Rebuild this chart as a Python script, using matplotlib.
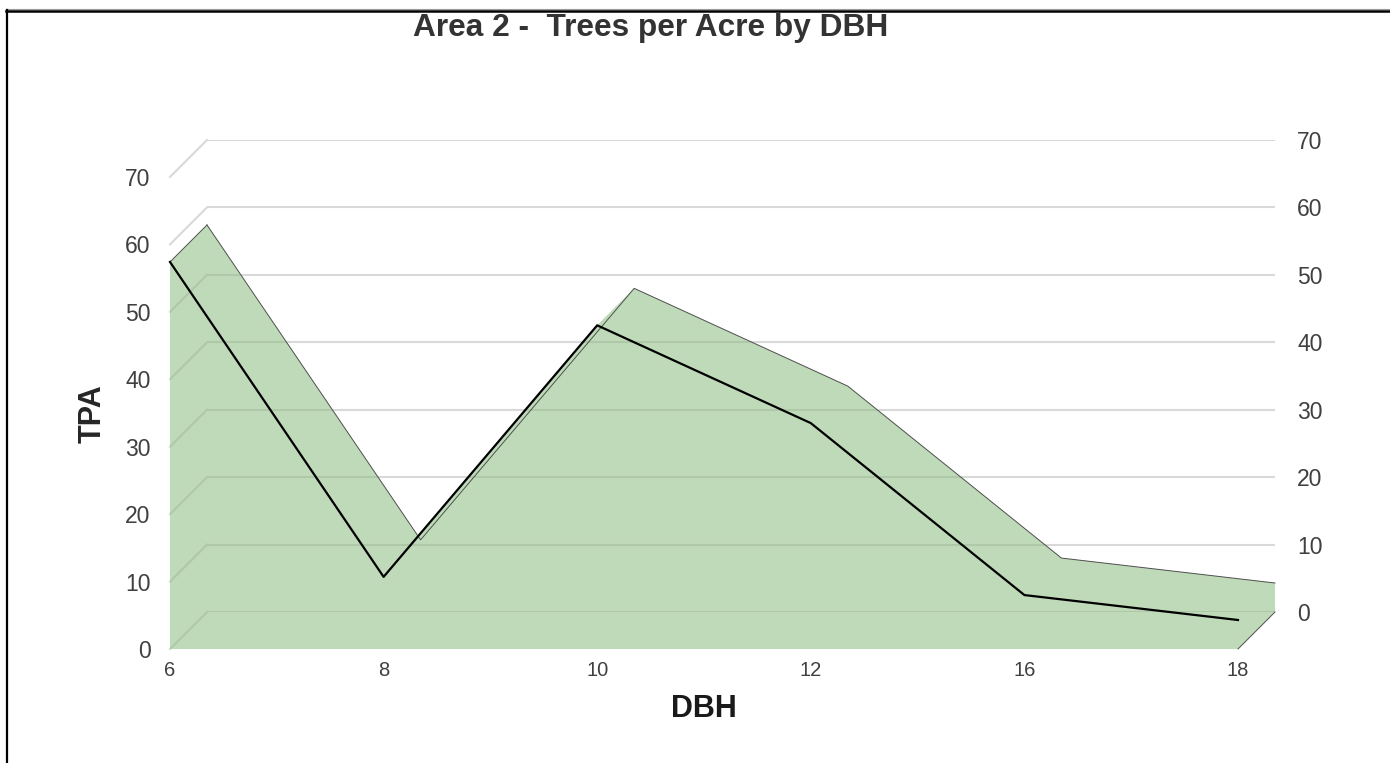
import numpy as np
import matplotlib.pyplot as plt
from matplotlib.path import Path
from matplotlib.patches import PathPatch
from matplotlib.lines import Line2D
from matplotlib.transforms import IdentityTransform

plt.rcParams['font.family'] = ['Liberation Sans', 'DejaVu Sans']

# data
dbh_labels = ['6', '8', '10', '12', '16', '18']
tpa = [57.4, 10.7, 48.0, 33.5, 8.0, 4.3]
y_ticks = [0, 10, 20, 30, 40, 50, 60, 70]

W, H = 1390, 763
DEPTH = 37  # px offset of the back wall (3d look)


def rect(l, t, r, b):
    # pixel box (from top-left) -> figure fraction rect
    return [l / W, 1 - b / H, (r - l) / W, (b - t) / H]


fig = plt.figure(figsize=(W / 100, H / 100), dpi=100)
fig.patch.set_facecolor('white')

# back wall: gridlines + right axis labels
ax_back = fig.add_axes(rect(170 + DEPTH, 177 - DEPTH, 1238 + DEPTH, 649 - DEPTH))
ax_back.set_xlim(0, len(tpa) - 1)
ax_back.set_ylim(0, 70)
ax_back.set_yticks(y_ticks)
ax_back.set_xticks([])
ax_back.yaxis.tick_right()
ax_back.tick_params(axis='y', length=0, pad=16, labelsize=16.5, labelcolor='#404040')
ax_back.grid(axis='y', color='#d9d9d9', lw=1.5)
for s in ax_back.spines.values():
    s.set_visible(False)

# front plane: left axis, category axis, the area
ax = fig.add_axes(rect(170, 177, 1238, 649))
ax.set_facecolor('none')
ax.set_xlim(0, len(tpa) - 1)
ax.set_ylim(0, 70)
ax.set_yticks(y_ticks)
xs = np.arange(len(tpa))
ax.set_xticks(xs)
ax.set_xticklabels(dbh_labels)
ax.tick_params(axis='y', length=0, pad=14, labelsize=16.5, labelcolor='#404040')
ax.tick_params(axis='x', length=0, pad=9, labelsize=14.5, labelcolor='#404040')
for s in ax.spines.values():
    s.set_visible(False)

# side wall gridlines (front edge -> back wall)
for v in y_ticks:
    p0 = ax.transData.transform((0, v))
    p1 = ax_back.transData.transform((0, v))
    ax.add_line(Line2D([p0[0], p1[0]], [p0[1], p1[1]], transform=IdentityTransform(),
                       color='#d9d9d9', lw=1.5, zorder=1, clip_on=False))

# extruded area, built as one path so overlaps are filled once
zero = np.zeros(len(tpa))
front = ax.transData.transform(np.column_stack([xs, tpa]))
back = ax_back.transData.transform(np.column_stack([xs, tpa]))
front0 = ax.transData.transform(np.column_stack([xs, zero]))
back0 = ax_back.transData.transform(np.column_stack([xs, zero]))

faces = [np.vstack([front, front0[::-1]]), np.vstack([back, back0[::-1]])]
for i in range(len(tpa) - 1):
    faces.append(np.array([front[i], front[i + 1], back[i + 1], back[i]]))
for i in (0, len(tpa) - 1):
    faces.append(np.array([front0[i], front[i], back[i], back0[i]]))

verts, codes = [], []
for f in faces:
    x, y = f[:, 0], f[:, 1]
    area = 0.5 * np.sum(x * np.roll(y, -1) - np.roll(x, -1) * y)
    if area < 0:
        f = f[::-1]
    verts.extend(f.tolist() + [f[0].tolist()])
    codes.extend([Path.MOVETO] + [Path.LINETO] * (len(f) - 1) + [Path.CLOSEPOLY])

patch = PathPatch(Path(verts, codes), transform=IdentityTransform(),
                  facecolor='#8cbc80', alpha=0.55, edgecolor='none', zorder=2, clip_on=False)
ax.add_patch(patch)

# thin outline edges of the 3d shape
edge_kw = dict(transform=IdentityTransform(), color='#505050', lw=0.7, zorder=3, clip_on=False)
ax.add_line(Line2D(back[:, 0], back[:, 1], **edge_kw))
ax.add_line(Line2D([front[0, 0], back[0, 0]], [front[0, 1], back[0, 1]], **edge_kw))
ax.add_line(Line2D([front0[-1, 0], back0[-1, 0]], [front0[-1, 1], back0[-1, 1]], **edge_kw))

# front line
ax.plot(xs, tpa, color='black', lw=1.6, zorder=4, clip_on=False)

# titles
fig.text(651 / W, 1 - 36 / H, 'Area 2 -  Trees per Acre by DBH', ha='center', va='baseline',
         fontsize=22.8, fontweight='bold', color='#333333')
fig.text(704 / W, 1 - 717 / H, 'DBH', ha='center', va='baseline',
         fontsize=22, fontweight='bold', color='#1a1a1a')
fig.text(93 / W, 1 - 414 / H, 'TPA', ha='center', va='center', rotation=90,
         fontsize=22, fontweight='bold', color='#262626')

# frame lines (top and left only)
fig.add_artist(Line2D([6 / W, 1], [1 - 9 / H, 1 - 9 / H], transform=fig.transFigure,
                      color='#9a9a9a', lw=0.8))
fig.add_artist(Line2D([6 / W, 1], [1 - 11 / H, 1 - 11 / H], transform=fig.transFigure,
                      color='black', lw=1.8))
fig.add_artist(Line2D([7 / W, 7 / W], [0, 1 - 10 / H], transform=fig.transFigure,
                      color='black', lw=1.6))

fig.savefig('out.png', dpi=100)
